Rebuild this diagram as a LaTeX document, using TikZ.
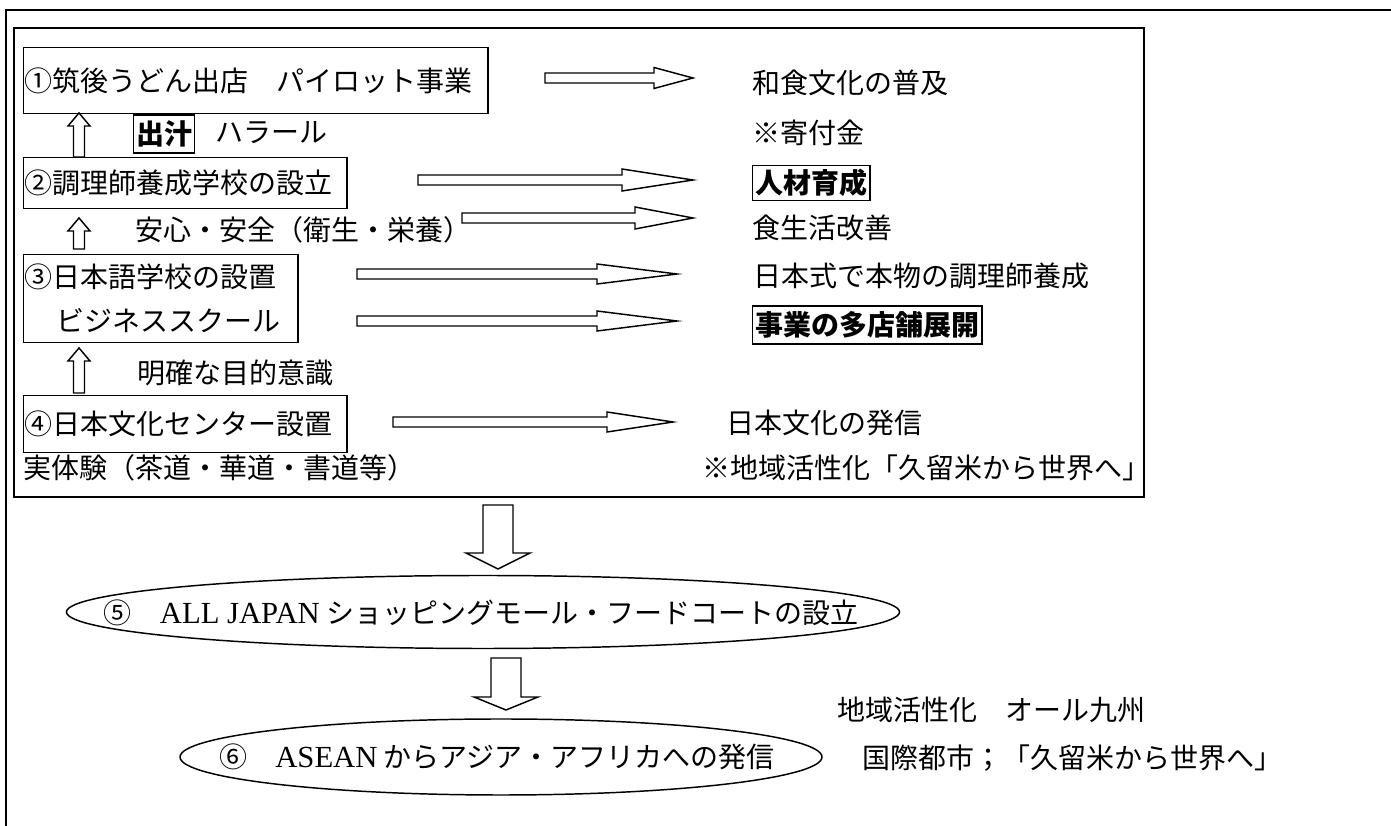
\documentclass[tikz,border=0pt]{standalone}
\usepackage{fontspec}
\setmainfont{Liberation Serif}
\newfontfamily\jpfont{Noto Sans CJK JP}
\usetikzlibrary{shapes.geometric}
\newcommand\pxunit{0.375pt}
\newcommand\latin[1]{{\rmfamily\fontsize{11.5pt}{16.5pt}\selectfont #1}}

\begin{document}
\begin{tikzpicture}[x=0.375pt, y=-0.375pt,
    font=\jpfont\fontsize{10.5pt}{16.5pt}\selectfont,
    txt/.style={anchor=west, inner sep=0pt},
    stepbox/.style={draw, line width=0.55pt, anchor=north west, inner xsep=0.4pt, inner ysep=0pt, align=left},
    keybox/.style={draw, line width=0.55pt, inner xsep=1pt, inner ysep=0pt,
                   font=\jpfont\bfseries\fontsize{10.5pt}{12pt}\selectfont},
    goal/.style={draw, ellipse, line width=0.55pt, inner sep=0pt},
    blk/.style={draw, line width=0.55pt, fill=white, line join=miter}]

  \useasboundingbox (0,0) rectangle (1391,826);
  \draw[line width=1pt] (1391,10) -- (6,10) -- (6,826);
  \draw[line width=0.8pt] (14,28) rectangle (1144,497);

  \node[stepbox, text width=462*\pxunit, minimum height=66*\pxunit] (s1) at (23,47) {①筑後うどん出店　パイロット事業};
  \node[stepbox, text width=321*\pxunit, minimum height=51*\pxunit] (s2) at (23,157) {②調理師養成学校の設立};
  \node[stepbox, text width=272*\pxunit, minimum height=88*\pxunit] (s3) at (23,254) {③日本語学校の設置\\\hspace*{12pt}ビジネススクール};
  \node[stepbox, text width=321*\pxunit, minimum height=57*\pxunit] (s4) at (23,395) {④日本文化センター設置};

  \node[keybox, minimum height=38*\pxunit] (dashi) at (164,134) {出汁};
  \node[keybox, minimum height=35*\pxunit, anchor=west] (jinzai) at (752,183) {人材育成};
  \node[keybox, minimum height=38*\pxunit, anchor=west] (tenpo) at (752,325) {事業の多店舗展開};

  \foreach \nm/\x/\y/\t in {halal/215/133/ハラール, anshin/135/230/安心・安全（衛生・栄養）,
      mokuteki/137/373/明確な目的意識, taiken/23/468/実体験（茶道・華道・書道等）,
      washoku/752/83/和食文化の普及, kifu/752/133/※寄付金, shoku/752/228/食生活改善,
      honmono/753/276/日本式で本物の調理師養成, hasshin/726/423/日本文化の発信,
      kasseika/702/468/※地域活性化「久留米から世界へ」,
      kyushu/837/710/地域活性化　オール九州, kokusai/862/758/国際都市；「久留米から世界へ」}
    \node[txt] (\nm) at (\x,\y) {\t};

  \foreach \ta/\tb/\tx/\y/\h in {545/654/693/78/10.5, 418/622/693/180/11, 462/635/693/218/11,
      357/597/677/274/10, 357/597/677/321/10, 393/607/673/422/10}
    \draw[blk] (\ta,\y-5) -- (\tb,\y-5) -- (\tb,\y-\h) -- (\tx,\y) -- (\tb,\y+\h) -- (\tb,\y+5) -- (\ta,\y+5) -- cycle;

  \foreach \ya/\ym/\yb in {113/126/157, 218/231/249, 348/361/393}
    \draw[blk] (79,\ya) -- (90,\ym) -- (84.5,\ym) -- (84.5,\yb) -- (73.5,\yb) -- (73.5,\ym) -- (68,\ym) -- cycle;

  \foreach \cx/\ya/\ym/\yb in {498/505/553/569, 506/658/697/710}
    \draw[blk] (\cx-15,\ya) -- (\cx+15,\ya) -- (\cx+15,\ym) -- (\cx+32,\ym) -- (\cx,\yb) -- (\cx-32,\ym) -- (\cx-15,\ym) -- cycle;

  \node[goal, minimum width=833*\pxunit, minimum height=73*\pxunit] (g5) at (483,612) {};
  \node (g5t) at (481,613) {⑤　\latin{ALL JAPAN} ショッピングモール・フードコートの設立};
  \node[goal, minimum width=642*\pxunit, minimum height=76*\pxunit] (g6) at (501,757) {};
  \node (g6t) at (497,757) {⑥　\latin{ASEAN} からアジア・アフリカへの発信};
\end{tikzpicture}
\end{document}
